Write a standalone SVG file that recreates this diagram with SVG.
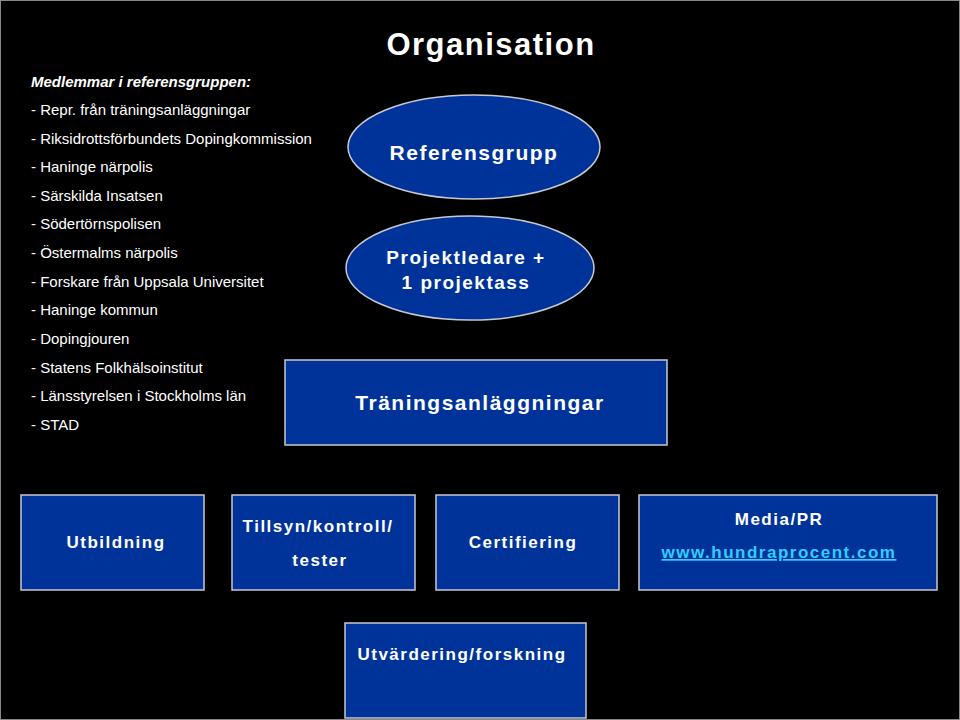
<svg xmlns="http://www.w3.org/2000/svg" width="960" height="720" viewBox="0 0 960 720">
<style>
.b{fill:#003399;stroke:#c8c8d0;stroke-width:1.5}
.t{font-family:"Liberation Sans",Arial,sans-serif;fill:#fff;font-weight:bold;letter-spacing:1.5px;text-anchor:middle}
.l{font-family:"Liberation Sans",Arial,sans-serif;fill:#fff;font-size:15px}
</style>
<rect width="960" height="720" fill="#000"/>
<rect x="0.5" y="0.5" width="959" height="719" fill="none" stroke="#888" stroke-width="1"/>
<text class="t" x="491" y="55" font-size="31">Organisation</text>
<g id="list">
<text class="l" x="31" y="87" font-weight="bold" font-style="italic">Medlemmar i referensgruppen:</text>
<text class="l" x="31" y="115">- Repr. från träningsanläggningar</text>
<text class="l" x="31" y="144">- Riksidrottsförbundets Dopingkommission</text>
<text class="l" x="31" y="172">- Haninge närpolis</text>
<text class="l" x="31" y="201">- Särskilda Insatsen</text>
<text class="l" x="31" y="229">- Södertörnspolisen</text>
<text class="l" x="31" y="258">- Östermalms närpolis</text>
<text class="l" x="31" y="287">- Forskare från Uppsala Universitet</text>
<text class="l" x="31" y="315">- Haninge kommun</text>
<text class="l" x="31" y="344">- Dopingjouren</text>
<text class="l" x="31" y="373">- Statens Folkhälsoinstitut</text>
<text class="l" x="31" y="401">- Länsstyrelsen i Stockholms län</text>
<text class="l" x="31" y="430">- STAD</text>
</g>
<g id="connectors"></g>
<g id="ref"><ellipse class="b" cx="474" cy="147" rx="126" ry="52"/><text class="t" x="474" y="160" font-size="21">Referensgrupp</text></g>
<g id="proj"><ellipse class="b" cx="470" cy="268" rx="124" ry="52"/><text class="t" x="466" y="264" font-size="19">Projektledare +</text><text class="t" x="466" y="289" font-size="19">1 projektass</text></g>
<g id="tran"><rect class="b" x="285" y="360" width="382" height="85"/><text class="t" x="480" y="410" font-size="21">Träningsanläggningar</text></g>
<g id="utb"><rect class="b" x="21" y="495" width="183" height="95"/><text class="t" x="116" y="548" font-size="17">Utbildning</text></g>
<g id="till"><rect class="b" x="232" y="495" width="183" height="95"/><text class="t" x="318" y="532" font-size="17">Tillsyn/kontroll/</text><text class="t" x="320" y="566" font-size="17">tester</text></g>
<g id="cert"><rect class="b" x="436" y="495" width="183" height="95"/><text class="t" x="523" y="548" font-size="17">Certifiering</text></g>
<g id="media"><rect class="b" x="639" y="495" width="298" height="95"/><text class="t" x="779" y="525" font-size="17">Media/PR</text><text class="t" x="779" y="558" font-size="17" fill="#33ccff" style="fill:#33ccff" text-decoration="underline">www.hundraprocent.com</text></g>
<g id="utv"><rect class="b" x="345" y="623" width="241" height="95"/><text class="t" x="462" y="660" font-size="17">Utvärdering/forskning</text></g>
</svg>
